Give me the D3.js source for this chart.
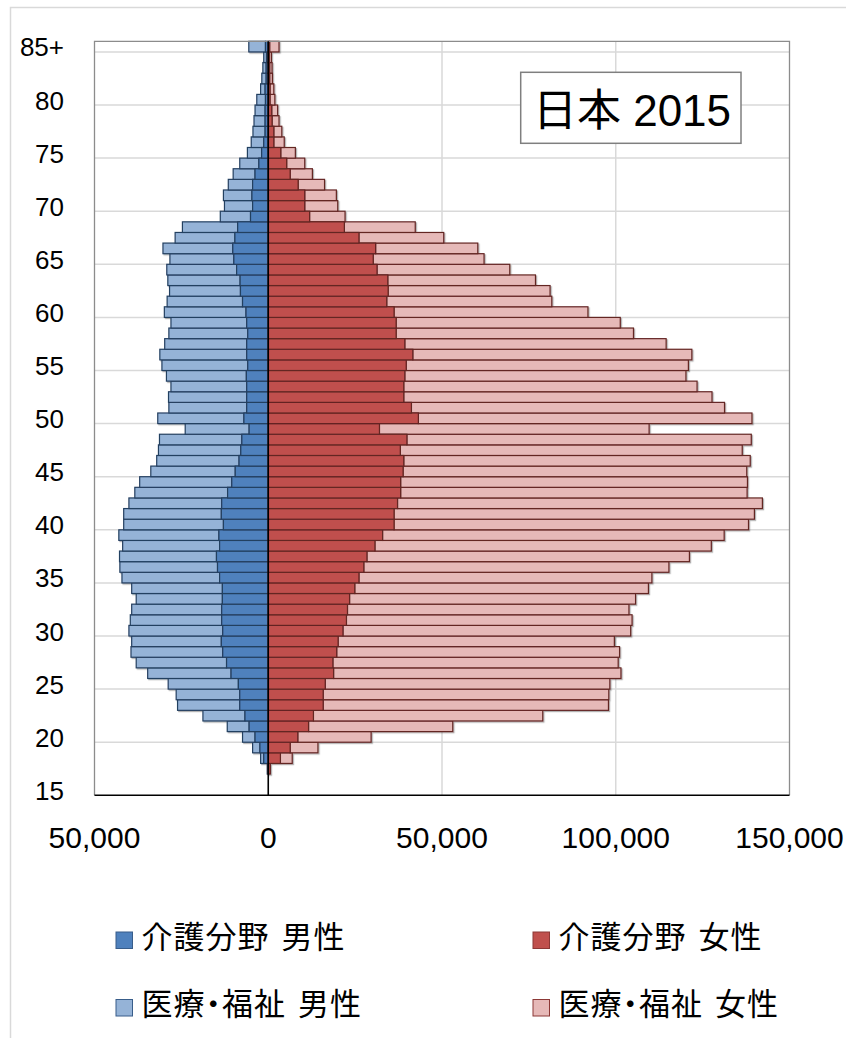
<!DOCTYPE html>
<html>
<head>
<meta charset="utf-8">
<script src="https://cdn.jsdelivr.net/npm/d3@7"></script>
<style>
  html, body { margin: 0; padding: 0; background: #fff; }
  svg { display: block; }
  .legend-text { font-feature-settings: "palt" 1; }
</style>
</head>
<body>
<svg id="chart" width="846" height="1038"></svg>
<script>
// Ages 15 .. 85 (85 = "85+")
const ages = d3.range(15, 86);

// 介護分野 男性 (persons)
const maleKaigo = [
  0, 0, 300, 1300, 2400,
  3800, 5500, 6700, 8200, 8200,
  8600, 10700, 12000, 13100, 13500,
  13100, 13400, 13400, 13200, 13200,
  14000, 14600, 14900, 14000, 14200,
  12900, 13500, 13400, 11700, 10500,
  9500, 8400, 7900, 7600, 5500,
  7000, 6200, 6200, 6200, 6300,
  5900, 6200, 6200, 5900, 6200,
  6400, 7400, 8000, 8100, 9100,
  9900, 10200, 9600, 8800, 5100,
  4500, 4700, 4500, 3800, 2700,
  1900, 1300, 900, 900, 900,
  800, 900, 600, 600, 500,
  800
];
// 医療・福祉 男性 (persons, total extent)
const maleIryo = [
  0, 0, 300, 2200, 4500,
  7400, 11800, 18800, 26100, 26500,
  28800, 34700, 38000, 39500, 39300,
  40100, 39700, 39300, 38000, 39300,
  42100, 42700, 42800, 41900, 43000,
  41600, 41600, 40100, 38400, 37000,
  33800, 32100, 31600, 31300, 23900,
  31800, 28600, 28700, 28000, 29300,
  30600, 31200, 29800, 28600, 28000,
  29900, 29100, 28400, 28900, 29200,
  28300, 30300, 26800, 24700, 13800,
  12600, 12900, 11500, 10100, 8200,
  6000, 4900, 4400, 4100, 3800,
  3300, 2200, 1850, 1550, 1300,
  5600
];
// 介護分野 女性
const femaleKaigo = [
  0, 0, 600, 3500, 6300,
  8500, 11600, 13000, 15800, 15800,
  16400, 18800, 18600, 19700, 20100,
  21500, 22500, 22800, 23400, 24900,
  26100, 27500, 28400, 30700, 32900,
  36200, 36200, 37200, 38100, 38100,
  38800, 39000, 38000, 39900, 32000,
  43200, 41200, 39000, 39000, 39300,
  39700, 41600, 39300, 36800, 36800,
  36200, 34100, 34500, 34400, 31300,
  30200, 30900, 26100, 21900, 11900,
  10500, 10500, 8600, 6300, 5300,
  3600, 1600, 1600, 1100, 1000,
  500, 500, 400, 400, 300,
  400
];
// 医療・福祉 女性 (total extent)
const femaleIryo = [
  0, 0, 600, 6900, 14300,
  29600, 53100, 79000, 97900, 98000,
  98300, 101500, 100700, 101100, 99600,
  104300, 104700, 103800, 105700, 109400,
  110400, 115300, 121200, 127500, 131200,
  138200, 139900, 142200, 137800, 137900,
  137700, 138700, 136400, 139000, 109600,
  139200, 131300, 127700, 123400, 120200,
  120900, 121900, 114500, 105100, 101300,
  92000, 81600, 81100, 76900, 69500,
  62100, 60300, 50500, 42300, 22100,
  20000, 19600, 16200, 12700, 10500,
  7800, 4600, 3900, 3100, 2700,
  1900, 1600, 1200, 1100, 900,
  3100
];

const yTicks = [15, 20, 25, 30, 35, 40, 45, 50, 55, 60, 65, 70, 75, 80, 85];
const yTickLabels = ["15", "20", "25", "30", "35", "40", "45", "50", "55", "60", "65", "70", "75", "80", "85+"];
const xTicks = [-50000, 0, 50000, 100000, 150000];
const xTickLabels = ["50,000", "0", "50,000", "100,000", "150,000"];
const legendLabels = ["介護分野 男性", "介護分野 女性", "医療・福祉 男性", "医療・福祉 女性"];
const title = "日本 2015";

const colors = {
  mk: "#4f81bd", mi: "#95b3d7", fk: "#c0504d", fi: "#e6b9b8",
  blueLine: "#243f60", redLine: "#632523"
};

const svg = d3.select("#chart");
svg.append("rect").attr("width", 846).attr("height", 1038).attr("fill", "#fff");

// outer chart frame
svg.append("path").attr("d", "M10.5,1038 V7.5 H846")
  .attr("fill", "none").attr("stroke", "#d9d9d9").attr("stroke-width", 1.5);

const plot = { left: 94.5, right: 789.5, top: 41.3, bottom: 795.3 };
const x = d3.scaleLinear().domain([-50000, 150000]).range([plot.left, plot.right]);
const y = d3.scaleLinear().domain([15, 86]).range([plot.bottom, plot.top]);

// gridlines
const g = svg.append("g");
g.selectAll("line.hg").data(yTicks.filter(t => t > 15)).join("line")
  .attr("x1", plot.left).attr("x2", plot.right)
  .attr("y1", d => y(d)).attr("y2", d => y(d))
  .attr("stroke", "#d9d9d9").attr("stroke-width", 1.5);
g.selectAll("line.vg").data([50000, 100000]).join("line")
  .attr("y1", plot.top).attr("y2", plot.bottom)
  .attr("x1", d => x(d)).attr("x2", d => x(d))
  .attr("stroke", "#d9d9d9").attr("stroke-width", 1.5);

// shadow filter
const defs = svg.append("defs");
const f = defs.append("filter").attr("id", "sh").attr("x", "-5%").attr("y", "-20%").attr("width", "115%").attr("height", "160%");
f.append("feDropShadow").attr("dx", 1.2).attr("dy", 1.2).attr("stdDeviation", 0.6)
  .attr("flood-color", "#000").attr("flood-opacity", 0.3);

const rows = ages.map((a, i) => ({
  age: a, mk: maleKaigo[i], mi: maleIryo[i], fk: femaleKaigo[i], fi: femaleIryo[i]
}));

const bars = svg.append("g").attr("filter", "url(#sh)");
function drawBars(cls, x0f, x1f, fill, stroke) {
  bars.selectAll("rect." + cls).data(rows.filter(r => Math.abs(x1f(r) - x0f(r)) > 0.01))
    .join("rect").attr("class", cls)
    .attr("x", r => Math.min(x0f(r), x1f(r)))
    .attr("width", r => Math.abs(x1f(r) - x0f(r)))
    .attr("y", r => y(r.age + 1))
    .attr("height", r => y(r.age) - y(r.age + 1))
    .attr("fill", fill).attr("stroke", stroke).attr("stroke-width", 1.2);
}
drawBars("mi", r => x(-r.mi), r => x(-r.mk), colors.mi, colors.blueLine);
drawBars("mk", r => x(-r.mk), r => x(0), colors.mk, colors.blueLine);
drawBars("fi", r => x(r.fk), r => x(r.fi), colors.fi, colors.redLine);
drawBars("fk", r => x(0), r => x(r.fk), colors.fk, colors.redLine);

// plot border
svg.append("path")
  .attr("d", `M${plot.left},${plot.bottom} V${plot.top} H${plot.right} V${plot.bottom}`)
  .attr("fill", "none").attr("stroke", "#8c8c8c").attr("stroke-width", 1.3);
// bottom axis line
svg.append("line").attr("x1", plot.left).attr("x2", plot.right)
  .attr("y1", plot.bottom).attr("y2", plot.bottom).attr("stroke", "#000").attr("stroke-width", 1.5);
// zero line
svg.append("line").attr("x1", x(0)).attr("x2", x(0))
  .attr("y1", plot.top).attr("y2", plot.bottom).attr("stroke", "#000").attr("stroke-width", 1.6);

// y labels
svg.append("g").selectAll("text").data(yTicks).join("text")
  .attr("x", 64).attr("y", d => y(d) + 4.5)
  .attr("text-anchor", "end")
  .attr("font-family", "'Liberation Sans', Arial, sans-serif")
  .attr("font-size", 26).attr("fill", "#000")
  .text((d, i) => yTickLabels[i]);

// x labels
svg.append("g").selectAll("text").data(xTicks).join("text")
  .attr("x", d => x(d)).attr("y", 848)
  .attr("text-anchor", "middle")
  .attr("font-family", "'Liberation Sans', Arial, sans-serif")
  .attr("font-size", 30).attr("fill", "#000")
  .text((d, i) => xTickLabels[i]);

// title box
svg.append("rect").attr("x", 520.7).attr("y", 72.3).attr("width", 220.3).attr("height", 71)
  .attr("fill", "#fff").attr("stroke", "#7f7f7f").attr("stroke-width", 1.5);
svg.append("text").attr("x", 632).attr("y", 125.5)
  .attr("text-anchor", "middle")
  .attr("font-family", "'Liberation Sans', 'Noto Sans CJK JP', sans-serif")
  .attr("font-size", 44).attr("fill", "#000")
  .text(title);

// legend
const legendItems = [
  { label: legendLabels[0], fill: colors.mk, stroke: "#385d8a", x: 116, y: 932 },
  { label: legendLabels[1], fill: colors.fk, stroke: "#8c3836", x: 533, y: 932 },
  { label: legendLabels[2], fill: colors.mi, stroke: "#385d8a", x: 116, y: 999.5 },
  { label: legendLabels[3], fill: colors.fi, stroke: "#8c3836", x: 533, y: 999.5 }
];
const lg = svg.append("g").selectAll("g").data(legendItems).join("g");
lg.append("rect").attr("x", d => d.x).attr("y", d => d.y).attr("width", 16.5).attr("height", 16.5)
  .attr("fill", d => d.fill).attr("stroke", d => d.stroke).attr("stroke-width", 1);
lg.append("text").attr("class", "legend-text")
  .attr("x", d => d.x + 25.5).attr("y", d => d.y + 15.5)
  .attr("font-family", "'Noto Sans CJK JP', sans-serif")
  .attr("font-size", 31).attr("fill", "#000")
  .attr("letter-spacing", 1).attr("word-spacing", 4)
  .text(d => d.label);
</script>
</body>
</html>
